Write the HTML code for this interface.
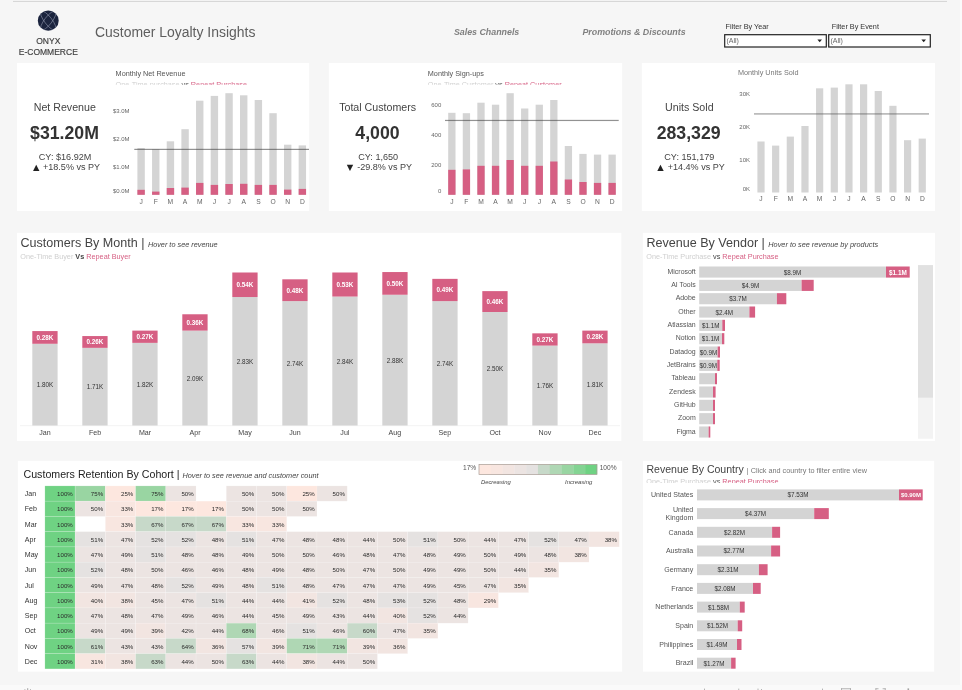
<!DOCTYPE html>
<html lang="en"><head><meta charset="utf-8"><title>Customer Loyalty Insights</title>
<style>
html,body{margin:0;padding:0}
body{width:962px;height:690px;overflow:hidden;background:#f6f6f6;position:relative;font-family:"Liberation Sans", Arial, sans-serif}
svg{display:block;font-family:"Liberation Sans", Arial, sans-serif}
svg text{white-space:pre}
.hdr{position:absolute;left:0;top:0;width:962px;height:62px}
.panel{position:absolute;overflow:hidden}
.bg{position:absolute;left:0;top:0}
.edge{position:absolute;left:960px;top:0;width:2px;height:690px;background:#fbfbfb}
.foot{position:absolute;left:0;top:685px;width:962px;height:5px;background:#fafafa}
</style></head><body>
<svg class="bg" width="962" height="690" viewBox="0 0 962 690">
<rect x="17.00" y="63.00" width="292.20" height="148.00" fill="#fff"/>
<rect x="328.90" y="63.00" width="293.20" height="148.00" fill="#fff"/>
<rect x="641.80" y="63.00" width="293.20" height="148.00" fill="#fff"/>
<rect x="17.00" y="232.80" width="604.40" height="208.20" fill="#fff"/>
<rect x="642.80" y="232.80" width="292.20" height="208.20" fill="#fff"/>
<rect x="17.90" y="460.90" width="604.30" height="210.80" fill="#fff"/>
<rect x="643.00" y="460.90" width="291.20" height="210.80" fill="#fff"/>
</svg>
<header class="hdr"><svg width="962" height="62" viewBox="0 0 962 62">
<rect x="13.00" y="0.90" width="934.00" height="1.00" fill="#d4d4d4"/>
<g class="logo"><clipPath id="lg"><ellipse cx="48.25" cy="20.65" rx="10.45" ry="10.05"/></clipPath><ellipse cx="48.25" cy="20.65" rx="10.45" ry="10.05" fill="#1b243e"/><g fill="none" stroke="#aeb4c8" stroke-width="0.45" clip-path="url(#lg)"><ellipse cx="48.25" cy="20.65" rx="3.74" ry="11.7" transform="rotate(37.5 48.25 20.65)"/><ellipse cx="48.25" cy="20.65" rx="3.74" ry="11.7" transform="rotate(-37.5 48.25 20.65)"/></g></g>
<text x="48.3" y="44.3" font-size="8.5" fill="#444" text-anchor="middle" stroke="#444" stroke-width="0.18">ONYX</text>
<text x="48.3" y="54.7" font-size="8.5" fill="#444" text-anchor="middle" stroke="#444" stroke-width="0.18">E-COMMERCE</text>
<text x="95.0" y="37.0" font-size="13.95" fill="#5e5e5e">Customer Loyalty Insights</text>
<text x="453.9" y="34.6" font-size="8.85" fill="#808080" font-weight="bold" font-style="italic">Sales Channels</text>
<text x="582.4" y="34.6" font-size="8.85" fill="#808080" font-weight="bold" font-style="italic">Promotions &amp; Discounts</text>
<text x="725.5" y="29.0" font-size="7.28" fill="#333">Filter By Year</text>
<text x="831.7" y="29.0" font-size="7.28" fill="#333">Filter By Event</text>
<rect x="724.7" y="34.7" width="101.6" height="12.3" fill="#fff" stroke="#222" stroke-width="1.2"/>
<text x="726.5" y="43.2" font-size="7.0" fill="#666">(All)</text>
<path d="M817.4 39.6 h4.6 l-2.3 2.6z" fill="#222"/>
<rect x="828.7" y="34.7" width="101.6" height="12.3" fill="#fff" stroke="#222" stroke-width="1.2"/>
<text x="830.5" y="43.2" font-size="7.0" fill="#666">(All)</text>
<path d="M921.4 39.6 h4.6 l-2.3 2.6z" fill="#222"/>
</svg></header>
<section class="panel k1" style="left:17px;top:63px;width:292px;height:148px">
<svg width="292" height="148" viewBox="17 63 292 148">
<text x="64.8" y="111.0" font-size="10.65" fill="#444" text-anchor="middle">Net Revenue</text>
<text x="64.5" y="139.1" font-size="17.7" fill="#333" text-anchor="middle" font-weight="bold">$31.20M</text>
<text x="65.1" y="160.4" font-size="9.1" fill="#444" text-anchor="middle">CY: $16.92M</text>
<text x="43.0" y="170.2" font-size="9.05" fill="#444"><tspan x="33.0" dy="-0.5" font-family="DejaVu Sans, sans-serif" font-size="8.4" fill="#222">▲</tspan><tspan x="43.0" dy="0.5">+18.5% vs PY</tspan></text>
<text x="115.6" y="76.3" font-size="7.28" fill="#555">Monthly Net Revenue</text>
<clipPath id="ck1"><rect x="17" y="78" width="292" height="6.8"/></clipPath>
<text x="115.6" y="87.0" font-size="7.28" clip-path="url(#ck1)"><tspan fill="#cfcfcf">One-Time purchase</tspan><tspan fill="#555"> vs </tspan><tspan fill="#d65f83">Repeat Purchase</tspan></text>
<text x="129.6" y="112.9" font-size="6.0" fill="#666" text-anchor="end">$3.0M</text>
<text x="129.6" y="141.0" font-size="6.0" fill="#666" text-anchor="end">$2.0M</text>
<text x="129.6" y="169.1" font-size="6.0" fill="#666" text-anchor="end">$1.0M</text>
<text x="129.6" y="192.6" font-size="6.0" fill="#666" text-anchor="end">$0.0M</text>
<rect x="137.40" y="148.00" width="7.40" height="46.80" fill="#d4d4d4"/>
<rect x="137.40" y="189.80" width="7.40" height="5.00" fill="#d65f83"/>
<text x="141.1" y="203.8" font-size="6.7" fill="#666" text-anchor="middle">J</text>
<rect x="152.06" y="149.20" width="7.40" height="45.60" fill="#d4d4d4"/>
<rect x="152.06" y="191.60" width="7.40" height="3.20" fill="#d65f83"/>
<text x="155.8" y="203.8" font-size="6.7" fill="#666" text-anchor="middle">F</text>
<rect x="166.72" y="141.30" width="7.40" height="53.50" fill="#d4d4d4"/>
<rect x="166.72" y="188.00" width="7.40" height="6.80" fill="#d65f83"/>
<text x="170.4" y="203.8" font-size="6.7" fill="#666" text-anchor="middle">M</text>
<rect x="181.38" y="129.20" width="7.40" height="65.60" fill="#d4d4d4"/>
<rect x="181.38" y="187.60" width="7.40" height="7.20" fill="#d65f83"/>
<text x="185.1" y="203.8" font-size="6.7" fill="#666" text-anchor="middle">A</text>
<rect x="196.04" y="100.70" width="7.40" height="94.10" fill="#d4d4d4"/>
<rect x="196.04" y="182.90" width="7.40" height="11.90" fill="#d65f83"/>
<text x="199.7" y="203.8" font-size="6.7" fill="#666" text-anchor="middle">M</text>
<rect x="210.70" y="95.90" width="7.40" height="98.90" fill="#d4d4d4"/>
<rect x="210.70" y="184.90" width="7.40" height="9.90" fill="#d65f83"/>
<text x="214.4" y="203.8" font-size="6.7" fill="#666" text-anchor="middle">J</text>
<rect x="225.36" y="93.20" width="7.40" height="101.60" fill="#d4d4d4"/>
<rect x="225.36" y="184.00" width="7.40" height="10.80" fill="#d65f83"/>
<text x="229.1" y="203.8" font-size="6.7" fill="#666" text-anchor="middle">J</text>
<rect x="240.02" y="95.30" width="7.40" height="99.50" fill="#d4d4d4"/>
<rect x="240.02" y="183.80" width="7.40" height="11.00" fill="#d65f83"/>
<text x="243.7" y="203.8" font-size="6.7" fill="#666" text-anchor="middle">A</text>
<rect x="254.68" y="100.00" width="7.40" height="94.80" fill="#d4d4d4"/>
<rect x="254.68" y="184.90" width="7.40" height="9.90" fill="#d65f83"/>
<text x="258.4" y="203.8" font-size="6.7" fill="#666" text-anchor="middle">S</text>
<rect x="269.34" y="113.20" width="7.40" height="81.60" fill="#d4d4d4"/>
<rect x="269.34" y="184.90" width="7.40" height="9.90" fill="#d65f83"/>
<text x="273.0" y="203.8" font-size="6.7" fill="#666" text-anchor="middle">O</text>
<rect x="284.00" y="144.70" width="7.40" height="50.10" fill="#d4d4d4"/>
<rect x="284.00" y="189.60" width="7.40" height="5.20" fill="#d65f83"/>
<text x="287.7" y="203.8" font-size="6.7" fill="#666" text-anchor="middle">N</text>
<rect x="298.66" y="145.40" width="7.40" height="49.40" fill="#d4d4d4"/>
<rect x="298.66" y="188.90" width="7.40" height="5.90" fill="#d65f83"/>
<text x="302.4" y="203.8" font-size="6.7" fill="#666" text-anchor="middle">D</text>
<rect x="134.3" y="148.80" width="174.7" height="1.2" fill="rgba(60,60,60,0.56)"/>
</svg></section>
<section class="panel k2" style="left:329px;top:63px;width:293px;height:148px">
<svg width="293" height="148" viewBox="329 63 293 148">
<text x="377.6" y="111.0" font-size="10.65" fill="#444" text-anchor="middle">Total Customers</text>
<text x="377.5" y="139.1" font-size="17.7" fill="#333" text-anchor="middle" font-weight="bold">4,000</text>
<text x="378.2" y="160.4" font-size="9.1" fill="#444" text-anchor="middle">CY: 1,650</text>
<text x="357.2" y="170.2" font-size="9.05" fill="#444"><tspan x="346.8" dy="-0.5" font-family="DejaVu Sans, sans-serif" font-size="8.4" fill="#222">▼</tspan><tspan x="357.2" dy="0.5">-29.8% vs PY</tspan></text>
<text x="427.8" y="76.3" font-size="7.28" fill="#555">Monthly Sign-ups</text>
<clipPath id="ck2"><rect x="329" y="78" width="293" height="6.8"/></clipPath>
<text x="427.8" y="87.0" font-size="7.28" clip-path="url(#ck2)"><tspan fill="#cfcfcf">One-Time Customer</tspan><tspan fill="#555"> vs </tspan><tspan fill="#d65f83">Repeat Customer</tspan></text>
<text x="441.3" y="107.0" font-size="6.0" fill="#666" text-anchor="end">600</text>
<text x="441.3" y="136.9" font-size="6.0" fill="#666" text-anchor="end">400</text>
<text x="441.3" y="167.0" font-size="6.0" fill="#666" text-anchor="end">200</text>
<text x="441.3" y="193.1" font-size="6.0" fill="#666" text-anchor="end">0</text>
<rect x="448.20" y="112.80" width="7.30" height="82.00" fill="#d4d4d4"/>
<rect x="448.20" y="169.80" width="7.30" height="25.00" fill="#d65f83"/>
<text x="451.8" y="203.8" font-size="6.7" fill="#666" text-anchor="middle">J</text>
<rect x="462.77" y="113.20" width="7.30" height="81.60" fill="#d4d4d4"/>
<rect x="462.77" y="169.40" width="7.30" height="25.40" fill="#d65f83"/>
<text x="466.4" y="203.8" font-size="6.7" fill="#666" text-anchor="middle">F</text>
<rect x="477.34" y="102.70" width="7.30" height="92.10" fill="#d4d4d4"/>
<rect x="477.34" y="165.80" width="7.30" height="29.00" fill="#d65f83"/>
<text x="481.0" y="203.8" font-size="6.7" fill="#666" text-anchor="middle">M</text>
<rect x="491.91" y="104.70" width="7.30" height="90.10" fill="#d4d4d4"/>
<rect x="491.91" y="165.80" width="7.30" height="29.00" fill="#d65f83"/>
<text x="495.6" y="203.8" font-size="6.7" fill="#666" text-anchor="middle">A</text>
<rect x="506.48" y="93.20" width="7.30" height="101.60" fill="#d4d4d4"/>
<rect x="506.48" y="160.00" width="7.30" height="34.80" fill="#d65f83"/>
<text x="510.1" y="203.8" font-size="6.7" fill="#666" text-anchor="middle">M</text>
<rect x="521.05" y="108.50" width="7.30" height="86.30" fill="#d4d4d4"/>
<rect x="521.05" y="165.80" width="7.30" height="29.00" fill="#d65f83"/>
<text x="524.7" y="203.8" font-size="6.7" fill="#666" text-anchor="middle">J</text>
<rect x="535.62" y="104.70" width="7.30" height="90.10" fill="#d4d4d4"/>
<rect x="535.62" y="165.80" width="7.30" height="29.00" fill="#d65f83"/>
<text x="539.3" y="203.8" font-size="6.7" fill="#666" text-anchor="middle">J</text>
<rect x="550.19" y="100.00" width="7.30" height="94.80" fill="#d4d4d4"/>
<rect x="550.19" y="161.50" width="7.30" height="33.30" fill="#d65f83"/>
<text x="553.8" y="203.8" font-size="6.7" fill="#666" text-anchor="middle">A</text>
<rect x="564.76" y="146.00" width="7.30" height="48.80" fill="#d4d4d4"/>
<rect x="564.76" y="179.50" width="7.30" height="15.30" fill="#d65f83"/>
<text x="568.4" y="203.8" font-size="6.7" fill="#666" text-anchor="middle">S</text>
<rect x="579.33" y="153.90" width="7.30" height="40.90" fill="#d4d4d4"/>
<rect x="579.33" y="182.00" width="7.30" height="12.80" fill="#d65f83"/>
<text x="583.0" y="203.8" font-size="6.7" fill="#666" text-anchor="middle">O</text>
<rect x="593.90" y="154.60" width="7.30" height="40.20" fill="#d4d4d4"/>
<rect x="593.90" y="182.90" width="7.30" height="11.90" fill="#d65f83"/>
<text x="597.5" y="203.8" font-size="6.7" fill="#666" text-anchor="middle">N</text>
<rect x="608.47" y="154.60" width="7.30" height="40.20" fill="#d4d4d4"/>
<rect x="608.47" y="182.90" width="7.30" height="11.90" fill="#d65f83"/>
<text x="612.1" y="203.8" font-size="6.7" fill="#666" text-anchor="middle">D</text>
<rect x="445" y="119.85" width="173.7" height="1.2" fill="rgba(60,60,60,0.56)"/>
</svg></section>
<section class="panel k3" style="left:642px;top:63px;width:293px;height:148px">
<svg width="293" height="148" viewBox="642 63 293 148">
<text x="689.3" y="111.0" font-size="10.65" fill="#444" text-anchor="middle">Units Sold</text>
<text x="688.6" y="139.1" font-size="17.7" fill="#333" text-anchor="middle" font-weight="bold">283,329</text>
<text x="689.3" y="160.4" font-size="9.1" fill="#444" text-anchor="middle">CY: 151,179</text>
<text x="667.7" y="170.2" font-size="9.05" fill="#444"><tspan x="657.3" dy="-0.5" font-family="DejaVu Sans, sans-serif" font-size="8.4" fill="#222">▲</tspan><tspan x="667.7" dy="0.5">+14.4% vs PY</tspan></text>
<text x="737.9" y="75.3" font-size="7.28" fill="#777">Monthly Units Sold</text>
<text x="750.0" y="95.8" font-size="6.0" fill="#666" text-anchor="end">30K</text>
<text x="750.0" y="128.8" font-size="6.0" fill="#666" text-anchor="end">20K</text>
<text x="750.0" y="161.6" font-size="6.0" fill="#666" text-anchor="end">10K</text>
<text x="750.0" y="191.0" font-size="6.0" fill="#666" text-anchor="end">0K</text>
<rect x="757.40" y="141.50" width="7.20" height="51.00" fill="#d4d4d4"/>
<text x="761.0" y="201.0" font-size="6.7" fill="#666" text-anchor="middle">J</text>
<rect x="772.06" y="145.60" width="7.20" height="46.90" fill="#d4d4d4"/>
<text x="775.7" y="201.0" font-size="6.7" fill="#666" text-anchor="middle">F</text>
<rect x="786.72" y="136.60" width="7.20" height="55.90" fill="#d4d4d4"/>
<text x="790.3" y="201.0" font-size="6.7" fill="#666" text-anchor="middle">M</text>
<rect x="801.38" y="126.00" width="7.20" height="66.50" fill="#d4d4d4"/>
<text x="805.0" y="201.0" font-size="6.7" fill="#666" text-anchor="middle">A</text>
<rect x="816.04" y="88.30" width="7.20" height="104.20" fill="#d4d4d4"/>
<text x="819.6" y="201.0" font-size="6.7" fill="#666" text-anchor="middle">M</text>
<rect x="830.70" y="87.60" width="7.20" height="104.90" fill="#d4d4d4"/>
<text x="834.3" y="201.0" font-size="6.7" fill="#666" text-anchor="middle">J</text>
<rect x="845.36" y="84.30" width="7.20" height="108.20" fill="#d4d4d4"/>
<text x="849.0" y="201.0" font-size="6.7" fill="#666" text-anchor="middle">J</text>
<rect x="860.02" y="84.30" width="7.20" height="108.20" fill="#d4d4d4"/>
<text x="863.6" y="201.0" font-size="6.7" fill="#666" text-anchor="middle">A</text>
<rect x="874.68" y="91.00" width="7.20" height="101.50" fill="#d4d4d4"/>
<text x="878.3" y="201.0" font-size="6.7" fill="#666" text-anchor="middle">S</text>
<rect x="889.34" y="105.80" width="7.20" height="86.70" fill="#d4d4d4"/>
<text x="892.9" y="201.0" font-size="6.7" fill="#666" text-anchor="middle">O</text>
<rect x="904.00" y="140.20" width="7.20" height="52.30" fill="#d4d4d4"/>
<text x="907.6" y="201.0" font-size="6.7" fill="#666" text-anchor="middle">N</text>
<rect x="918.66" y="138.60" width="7.20" height="53.90" fill="#d4d4d4"/>
<text x="922.3" y="201.0" font-size="6.7" fill="#666" text-anchor="middle">D</text>
<rect x="754" y="113.10" width="175.0" height="1.6" fill="rgba(90,90,90,0.45)"/>
</svg></section>
<section class="panel cm" style="left:17px;top:232px;width:605px;height:209px">
<svg width="605" height="209" viewBox="17 232 605 209">
<text x="20.5" y="247.2" font-size="12.55" fill="#444">Customers By Month | <tspan font-size="7.3" font-style="italic" fill="#444">Hover to see revenue</tspan></text>
<text x="20.3" y="259.2" font-size="7.28"><tspan fill="#cfcfcf">One-Time Buyer</tspan><tspan fill="#444" font-weight="bold"> Vs </tspan><tspan fill="#d65f83">Repeat Buyer</tspan></text>
<rect x="20.00" y="425.50" width="600.00" height="0.60" fill="#ececec"/>
<rect x="32.30" y="343.78" width="25.30" height="81.72" fill="#d4d4d4"/>
<rect x="32.30" y="331.07" width="25.30" height="12.71" fill="#d65f83"/>
<text x="44.9" y="339.7" font-size="6.3" fill="#fff" text-anchor="middle" font-weight="bold">0.28K</text>
<text x="44.9" y="387.2" font-size="6.3" fill="#333" text-anchor="middle">1.80K</text>
<text x="44.9" y="434.9" font-size="7.1" fill="#444" text-anchor="middle">Jan</text>
<rect x="82.30" y="347.87" width="25.30" height="77.63" fill="#d4d4d4"/>
<rect x="82.30" y="336.06" width="25.30" height="11.80" fill="#d65f83"/>
<text x="95.0" y="344.3" font-size="6.3" fill="#fff" text-anchor="middle" font-weight="bold">0.26K</text>
<text x="95.0" y="389.3" font-size="6.3" fill="#333" text-anchor="middle">1.71K</text>
<text x="95.0" y="434.9" font-size="7.1" fill="#444" text-anchor="middle">Feb</text>
<rect x="132.30" y="342.87" width="25.30" height="82.63" fill="#d4d4d4"/>
<rect x="132.30" y="330.61" width="25.30" height="12.26" fill="#d65f83"/>
<text x="145.0" y="339.0" font-size="6.3" fill="#fff" text-anchor="middle" font-weight="bold">0.27K</text>
<text x="145.0" y="386.8" font-size="6.3" fill="#333" text-anchor="middle">1.82K</text>
<text x="145.0" y="434.9" font-size="7.1" fill="#444" text-anchor="middle">Mar</text>
<rect x="182.30" y="330.61" width="25.30" height="94.89" fill="#d4d4d4"/>
<rect x="182.30" y="314.27" width="25.30" height="16.34" fill="#d65f83"/>
<text x="195.0" y="324.7" font-size="6.3" fill="#fff" text-anchor="middle" font-weight="bold">0.36K</text>
<text x="195.0" y="380.7" font-size="6.3" fill="#333" text-anchor="middle">2.09K</text>
<text x="195.0" y="434.9" font-size="7.1" fill="#444" text-anchor="middle">Apr</text>
<rect x="232.30" y="297.02" width="25.30" height="128.48" fill="#d4d4d4"/>
<rect x="232.30" y="272.50" width="25.30" height="24.52" fill="#d65f83"/>
<text x="245.0" y="287.1" font-size="6.3" fill="#fff" text-anchor="middle" font-weight="bold">0.54K</text>
<text x="245.0" y="363.9" font-size="6.3" fill="#333" text-anchor="middle">2.83K</text>
<text x="245.0" y="434.9" font-size="7.1" fill="#444" text-anchor="middle">May</text>
<rect x="282.30" y="301.10" width="25.30" height="124.40" fill="#d4d4d4"/>
<rect x="282.30" y="279.31" width="25.30" height="21.79" fill="#d65f83"/>
<text x="294.9" y="292.5" font-size="6.3" fill="#fff" text-anchor="middle" font-weight="bold">0.48K</text>
<text x="294.9" y="365.9" font-size="6.3" fill="#333" text-anchor="middle">2.74K</text>
<text x="294.9" y="434.9" font-size="7.1" fill="#444" text-anchor="middle">Jun</text>
<rect x="332.30" y="296.56" width="25.30" height="128.94" fill="#d4d4d4"/>
<rect x="332.30" y="272.50" width="25.30" height="24.06" fill="#d65f83"/>
<text x="344.9" y="286.8" font-size="6.3" fill="#fff" text-anchor="middle" font-weight="bold">0.53K</text>
<text x="344.9" y="363.6" font-size="6.3" fill="#333" text-anchor="middle">2.84K</text>
<text x="344.9" y="434.9" font-size="7.1" fill="#444" text-anchor="middle">Jul</text>
<rect x="382.30" y="294.75" width="25.30" height="130.75" fill="#d4d4d4"/>
<rect x="382.30" y="272.05" width="25.30" height="22.70" fill="#d65f83"/>
<text x="394.9" y="285.7" font-size="6.3" fill="#fff" text-anchor="middle" font-weight="bold">0.50K</text>
<text x="394.9" y="362.7" font-size="6.3" fill="#333" text-anchor="middle">2.88K</text>
<text x="394.9" y="434.9" font-size="7.1" fill="#444" text-anchor="middle">Aug</text>
<rect x="432.30" y="301.10" width="25.30" height="124.40" fill="#d4d4d4"/>
<rect x="432.30" y="278.86" width="25.30" height="22.25" fill="#d65f83"/>
<text x="444.9" y="292.3" font-size="6.3" fill="#fff" text-anchor="middle" font-weight="bold">0.49K</text>
<text x="444.9" y="365.9" font-size="6.3" fill="#333" text-anchor="middle">2.74K</text>
<text x="444.9" y="434.9" font-size="7.1" fill="#444" text-anchor="middle">Sep</text>
<rect x="482.30" y="312.00" width="25.30" height="113.50" fill="#d4d4d4"/>
<rect x="482.30" y="291.12" width="25.30" height="20.88" fill="#d65f83"/>
<text x="494.9" y="303.9" font-size="6.3" fill="#fff" text-anchor="middle" font-weight="bold">0.46K</text>
<text x="494.9" y="371.4" font-size="6.3" fill="#333" text-anchor="middle">2.50K</text>
<text x="494.9" y="434.9" font-size="7.1" fill="#444" text-anchor="middle">Oct</text>
<rect x="532.30" y="345.60" width="25.30" height="79.90" fill="#d4d4d4"/>
<rect x="532.30" y="333.34" width="25.30" height="12.26" fill="#d65f83"/>
<text x="544.9" y="341.8" font-size="6.3" fill="#fff" text-anchor="middle" font-weight="bold">0.27K</text>
<text x="544.9" y="388.1" font-size="6.3" fill="#333" text-anchor="middle">1.76K</text>
<text x="544.9" y="434.9" font-size="7.1" fill="#444" text-anchor="middle">Nov</text>
<rect x="582.30" y="343.33" width="25.30" height="82.17" fill="#d4d4d4"/>
<rect x="582.30" y="330.61" width="25.30" height="12.71" fill="#d65f83"/>
<text x="594.9" y="339.3" font-size="6.3" fill="#fff" text-anchor="middle" font-weight="bold">0.28K</text>
<text x="594.9" y="387.0" font-size="6.3" fill="#333" text-anchor="middle">1.81K</text>
<text x="594.9" y="434.9" font-size="7.1" fill="#444" text-anchor="middle">Dec</text>
</svg></section>
<section class="panel rv" style="left:642px;top:232px;width:293px;height:209px">
<svg width="293" height="209" viewBox="642 232 293 209">
<text x="646.5" y="247.2" font-size="12.55" fill="#444">Revenue By Vendor | <tspan font-size="7.32" font-style="italic" fill="#444">Hover to see revenue by products</tspan></text>
<text x="646.3" y="259.2" font-size="7.28"><tspan fill="#cfcfcf">One-Time Purchase</tspan><tspan fill="#444"> vs </tspan><tspan fill="#d65f83">Repeat Purchase</tspan></text>
<text x="695.7" y="273.5" font-size="6.95" fill="#555" text-anchor="end">Microsoft</text>
<rect x="699.20" y="266.50" width="186.80" height="11.10" fill="#d4d4d4"/>
<rect x="886.00" y="266.50" width="23.70" height="11.10" fill="#d65f83"/>
<text x="792.6" y="274.5" font-size="6.3" fill="#333" text-anchor="middle">$8.9M</text>
<text x="897.9" y="274.5" font-size="6.4" fill="#fff" text-anchor="middle" font-weight="bold">$1.1M</text>
<text x="695.7" y="286.8" font-size="6.95" fill="#555" text-anchor="end">AI Tools</text>
<rect x="699.20" y="279.83" width="102.40" height="11.10" fill="#d4d4d4"/>
<rect x="801.60" y="279.83" width="12.10" height="11.10" fill="#d65f83"/>
<text x="750.4" y="287.8" font-size="6.3" fill="#333" text-anchor="middle">$4.9M</text>
<text x="695.7" y="300.2" font-size="6.95" fill="#555" text-anchor="end">Adobe</text>
<rect x="699.20" y="293.16" width="77.70" height="11.10" fill="#d4d4d4"/>
<rect x="776.90" y="293.16" width="9.40" height="11.10" fill="#d65f83"/>
<text x="738.0" y="301.2" font-size="6.3" fill="#333" text-anchor="middle">$3.7M</text>
<text x="695.7" y="313.5" font-size="6.95" fill="#555" text-anchor="end">Other</text>
<rect x="699.20" y="306.49" width="50.20" height="11.10" fill="#d4d4d4"/>
<rect x="749.40" y="306.49" width="5.70" height="11.10" fill="#d65f83"/>
<text x="724.3" y="314.5" font-size="6.3" fill="#333" text-anchor="middle">$2.4M</text>
<text x="695.7" y="326.8" font-size="6.95" fill="#555" text-anchor="end">Atlassian</text>
<rect x="699.20" y="319.82" width="23.10" height="11.10" fill="#d4d4d4"/>
<rect x="722.30" y="319.82" width="2.70" height="11.10" fill="#d65f83"/>
<text x="710.8" y="327.8" font-size="6.3" fill="#333" text-anchor="middle">$1.1M</text>
<text x="695.7" y="340.1" font-size="6.95" fill="#555" text-anchor="end">Notion</text>
<rect x="699.20" y="333.15" width="22.80" height="11.10" fill="#d4d4d4"/>
<rect x="722.00" y="333.15" width="2.30" height="11.10" fill="#d65f83"/>
<text x="710.6" y="341.1" font-size="6.3" fill="#333" text-anchor="middle">$1.1M</text>
<text x="695.7" y="353.5" font-size="6.95" fill="#555" text-anchor="end">Datadog</text>
<rect x="699.20" y="346.48" width="18.40" height="11.10" fill="#d4d4d4"/>
<rect x="717.60" y="346.48" width="2.40" height="11.10" fill="#d65f83"/>
<text x="708.4" y="354.5" font-size="6.3" fill="#333" text-anchor="middle">$0.9M</text>
<text x="695.7" y="366.8" font-size="6.95" fill="#555" text-anchor="end">JetBrains</text>
<rect x="699.20" y="359.81" width="18.10" height="11.10" fill="#d4d4d4"/>
<rect x="717.30" y="359.81" width="2.40" height="11.10" fill="#d65f83"/>
<text x="708.2" y="367.8" font-size="6.3" fill="#333" text-anchor="middle">$0.9M</text>
<text x="695.7" y="380.1" font-size="6.95" fill="#555" text-anchor="end">Tableau</text>
<rect x="699.20" y="373.14" width="15.80" height="11.10" fill="#d4d4d4"/>
<rect x="715.00" y="373.14" width="2.00" height="11.10" fill="#d65f83"/>
<text x="695.7" y="393.5" font-size="6.95" fill="#555" text-anchor="end">Zendesk</text>
<rect x="699.20" y="386.47" width="13.80" height="11.10" fill="#d4d4d4"/>
<rect x="713.00" y="386.47" width="2.60" height="11.10" fill="#d65f83"/>
<text x="695.7" y="406.8" font-size="6.95" fill="#555" text-anchor="end">GitHub</text>
<rect x="699.20" y="399.80" width="13.80" height="11.10" fill="#d4d4d4"/>
<rect x="713.00" y="399.80" width="2.00" height="11.10" fill="#d65f83"/>
<text x="695.7" y="420.1" font-size="6.95" fill="#555" text-anchor="end">Zoom</text>
<rect x="699.20" y="413.13" width="13.80" height="11.10" fill="#d4d4d4"/>
<rect x="713.00" y="413.13" width="2.00" height="11.10" fill="#d65f83"/>
<text x="695.7" y="433.5" font-size="6.95" fill="#555" text-anchor="end">Figma</text>
<rect x="699.20" y="426.46" width="9.40" height="11.10" fill="#d4d4d4"/>
<rect x="708.60" y="426.46" width="1.70" height="11.10" fill="#d65f83"/>
<rect x="918.00" y="265.10" width="15.00" height="173.60" fill="#f3f3f3"/>
<rect x="918.00" y="265.10" width="15.00" height="132.60" fill="#e1e1e1"/>
</svg></section>
<section class="panel co" style="left:17px;top:460px;width:606px;height:212px">
<svg width="606" height="212" viewBox="17 460 606 212">
<text x="23.5" y="478.1" font-size="10.65" fill="#222">Customers Retention By Cohort | <tspan font-size="7.32" font-style="italic" fill="#444">Hover to see revenue and customer count</tspan></text>
<text x="24.8" y="496.1" font-size="7.05" fill="#333">Jan</text>
<rect x="44.90" y="485.90" width="30.23" height="15.25" fill="rgb(111, 210, 131)" stroke="rgba(255,255,255,0.3)" stroke-width="0.5"/>
<text x="72.8" y="496.0" font-size="6.15" fill="#2a2a2a" text-anchor="end">100%</text>
<rect x="75.13" y="485.90" width="30.23" height="15.25" fill="rgb(153, 213, 162)" stroke="rgba(255,255,255,0.3)" stroke-width="0.5"/>
<text x="103.1" y="496.0" font-size="6.15" fill="#2a2a2a" text-anchor="end">75%</text>
<rect x="105.36" y="485.90" width="30.23" height="15.25" fill="rgb(253, 231, 223)" stroke="rgba(255,255,255,0.3)" stroke-width="0.5"/>
<text x="133.3" y="496.0" font-size="6.15" fill="#2a2a2a" text-anchor="end">25%</text>
<rect x="135.59" y="485.90" width="30.23" height="15.25" fill="rgb(153, 213, 162)" stroke="rgba(255,255,255,0.3)" stroke-width="0.5"/>
<text x="163.5" y="496.0" font-size="6.15" fill="#2a2a2a" text-anchor="end">75%</text>
<rect x="165.82" y="485.90" width="30.23" height="15.25" fill="rgb(236, 228, 226)" stroke="rgba(255,255,255,0.3)" stroke-width="0.5"/>
<text x="193.7" y="496.0" font-size="6.15" fill="#2a2a2a" text-anchor="end">50%</text>
<rect x="226.28" y="485.90" width="30.23" height="15.25" fill="rgb(236, 228, 226)" stroke="rgba(255,255,255,0.3)" stroke-width="0.5"/>
<text x="254.2" y="496.0" font-size="6.15" fill="#2a2a2a" text-anchor="end">50%</text>
<rect x="256.51" y="485.90" width="30.23" height="15.25" fill="rgb(236, 228, 226)" stroke="rgba(255,255,255,0.3)" stroke-width="0.5"/>
<text x="284.4" y="496.0" font-size="6.15" fill="#2a2a2a" text-anchor="end">50%</text>
<rect x="286.74" y="485.90" width="30.23" height="15.25" fill="rgb(253, 231, 223)" stroke="rgba(255,255,255,0.3)" stroke-width="0.5"/>
<text x="314.7" y="496.0" font-size="6.15" fill="#2a2a2a" text-anchor="end">25%</text>
<rect x="316.97" y="485.90" width="30.23" height="15.25" fill="rgb(236, 228, 226)" stroke="rgba(255,255,255,0.3)" stroke-width="0.5"/>
<text x="344.9" y="496.0" font-size="6.15" fill="#2a2a2a" text-anchor="end">50%</text>
<text x="24.8" y="511.3" font-size="7.05" fill="#333">Feb</text>
<rect x="44.90" y="501.15" width="30.23" height="15.25" fill="rgb(111, 210, 131)" stroke="rgba(255,255,255,0.3)" stroke-width="0.5"/>
<text x="72.8" y="511.2" font-size="6.15" fill="#2a2a2a" text-anchor="end">100%</text>
<rect x="75.13" y="501.15" width="30.23" height="15.25" fill="rgb(236, 228, 226)" stroke="rgba(255,255,255,0.3)" stroke-width="0.5"/>
<text x="103.1" y="511.2" font-size="6.15" fill="#2a2a2a" text-anchor="end">50%</text>
<rect x="105.36" y="501.15" width="30.23" height="15.25" fill="rgb(248, 230, 224)" stroke="rgba(255,255,255,0.3)" stroke-width="0.5"/>
<text x="133.3" y="511.2" font-size="6.15" fill="#2a2a2a" text-anchor="end">33%</text>
<rect x="135.59" y="501.15" width="30.23" height="15.25" fill="rgb(253, 231, 223)" stroke="rgba(255,255,255,0.3)" stroke-width="0.5"/>
<text x="163.5" y="511.2" font-size="6.15" fill="#2a2a2a" text-anchor="end">17%</text>
<rect x="165.82" y="501.15" width="30.23" height="15.25" fill="rgb(253, 231, 223)" stroke="rgba(255,255,255,0.3)" stroke-width="0.5"/>
<text x="193.7" y="511.2" font-size="6.15" fill="#2a2a2a" text-anchor="end">17%</text>
<rect x="196.05" y="501.15" width="30.23" height="15.25" fill="rgb(253, 231, 223)" stroke="rgba(255,255,255,0.3)" stroke-width="0.5"/>
<text x="224.0" y="511.2" font-size="6.15" fill="#2a2a2a" text-anchor="end">17%</text>
<rect x="226.28" y="501.15" width="30.23" height="15.25" fill="rgb(236, 228, 226)" stroke="rgba(255,255,255,0.3)" stroke-width="0.5"/>
<text x="254.2" y="511.2" font-size="6.15" fill="#2a2a2a" text-anchor="end">50%</text>
<rect x="256.51" y="501.15" width="30.23" height="15.25" fill="rgb(236, 228, 226)" stroke="rgba(255,255,255,0.3)" stroke-width="0.5"/>
<text x="284.4" y="511.2" font-size="6.15" fill="#2a2a2a" text-anchor="end">50%</text>
<rect x="286.74" y="501.15" width="30.23" height="15.25" fill="rgb(236, 228, 226)" stroke="rgba(255,255,255,0.3)" stroke-width="0.5"/>
<text x="314.7" y="511.2" font-size="6.15" fill="#2a2a2a" text-anchor="end">50%</text>
<text x="24.8" y="526.6" font-size="7.05" fill="#333">Mar</text>
<rect x="44.90" y="516.40" width="30.23" height="15.25" fill="rgb(111, 210, 131)" stroke="rgba(255,255,255,0.3)" stroke-width="0.5"/>
<text x="72.8" y="526.5" font-size="6.15" fill="#2a2a2a" text-anchor="end">100%</text>
<rect x="105.36" y="516.40" width="30.23" height="15.25" fill="rgb(248, 230, 224)" stroke="rgba(255,255,255,0.3)" stroke-width="0.5"/>
<text x="133.3" y="526.5" font-size="6.15" fill="#2a2a2a" text-anchor="end">33%</text>
<rect x="135.59" y="516.40" width="30.23" height="15.25" fill="rgb(199, 217, 201)" stroke="rgba(255,255,255,0.3)" stroke-width="0.5"/>
<text x="163.5" y="526.5" font-size="6.15" fill="#2a2a2a" text-anchor="end">67%</text>
<rect x="165.82" y="516.40" width="30.23" height="15.25" fill="rgb(199, 217, 201)" stroke="rgba(255,255,255,0.3)" stroke-width="0.5"/>
<text x="193.7" y="526.5" font-size="6.15" fill="#2a2a2a" text-anchor="end">67%</text>
<rect x="196.05" y="516.40" width="30.23" height="15.25" fill="rgb(199, 217, 201)" stroke="rgba(255,255,255,0.3)" stroke-width="0.5"/>
<text x="224.0" y="526.5" font-size="6.15" fill="#2a2a2a" text-anchor="end">67%</text>
<rect x="226.28" y="516.40" width="30.23" height="15.25" fill="rgb(248, 230, 224)" stroke="rgba(255,255,255,0.3)" stroke-width="0.5"/>
<text x="254.2" y="526.5" font-size="6.15" fill="#2a2a2a" text-anchor="end">33%</text>
<rect x="256.51" y="516.40" width="30.23" height="15.25" fill="rgb(248, 230, 224)" stroke="rgba(255,255,255,0.3)" stroke-width="0.5"/>
<text x="284.4" y="526.5" font-size="6.15" fill="#2a2a2a" text-anchor="end">33%</text>
<text x="24.8" y="541.9" font-size="7.05" fill="#333">Apr</text>
<rect x="44.90" y="531.65" width="30.23" height="15.25" fill="rgb(111, 210, 131)" stroke="rgba(255,255,255,0.3)" stroke-width="0.5"/>
<text x="72.8" y="541.8" font-size="6.15" fill="#2a2a2a" text-anchor="end">100%</text>
<rect x="75.13" y="531.65" width="30.23" height="15.25" fill="rgb(229, 226, 225)" stroke="rgba(255,255,255,0.3)" stroke-width="0.5"/>
<text x="103.1" y="541.8" font-size="6.15" fill="#2a2a2a" text-anchor="end">51%</text>
<rect x="105.36" y="531.65" width="30.23" height="15.25" fill="rgb(236, 228, 226)" stroke="rgba(255,255,255,0.3)" stroke-width="0.5"/>
<text x="133.3" y="541.8" font-size="6.15" fill="#2a2a2a" text-anchor="end">47%</text>
<rect x="135.59" y="531.65" width="30.23" height="15.25" fill="rgb(229, 226, 225)" stroke="rgba(255,255,255,0.3)" stroke-width="0.5"/>
<text x="163.5" y="541.8" font-size="6.15" fill="#2a2a2a" text-anchor="end">52%</text>
<rect x="165.82" y="531.65" width="30.23" height="15.25" fill="rgb(229, 226, 225)" stroke="rgba(255,255,255,0.3)" stroke-width="0.5"/>
<text x="193.7" y="541.8" font-size="6.15" fill="#2a2a2a" text-anchor="end">52%</text>
<rect x="196.05" y="531.65" width="30.23" height="15.25" fill="rgb(236, 228, 226)" stroke="rgba(255,255,255,0.3)" stroke-width="0.5"/>
<text x="224.0" y="541.8" font-size="6.15" fill="#2a2a2a" text-anchor="end">48%</text>
<rect x="226.28" y="531.65" width="30.23" height="15.25" fill="rgb(229, 226, 225)" stroke="rgba(255,255,255,0.3)" stroke-width="0.5"/>
<text x="254.2" y="541.8" font-size="6.15" fill="#2a2a2a" text-anchor="end">51%</text>
<rect x="256.51" y="531.65" width="30.23" height="15.25" fill="rgb(236, 228, 226)" stroke="rgba(255,255,255,0.3)" stroke-width="0.5"/>
<text x="284.4" y="541.8" font-size="6.15" fill="#2a2a2a" text-anchor="end">47%</text>
<rect x="286.74" y="531.65" width="30.23" height="15.25" fill="rgb(236, 228, 226)" stroke="rgba(255,255,255,0.3)" stroke-width="0.5"/>
<text x="314.7" y="541.8" font-size="6.15" fill="#2a2a2a" text-anchor="end">48%</text>
<rect x="316.97" y="531.65" width="30.23" height="15.25" fill="rgb(236, 228, 226)" stroke="rgba(255,255,255,0.3)" stroke-width="0.5"/>
<text x="344.9" y="541.8" font-size="6.15" fill="#2a2a2a" text-anchor="end">48%</text>
<rect x="347.20" y="531.65" width="30.23" height="15.25" fill="rgb(236, 228, 226)" stroke="rgba(255,255,255,0.3)" stroke-width="0.5"/>
<text x="375.1" y="541.8" font-size="6.15" fill="#2a2a2a" text-anchor="end">44%</text>
<rect x="377.43" y="531.65" width="30.23" height="15.25" fill="rgb(236, 228, 226)" stroke="rgba(255,255,255,0.3)" stroke-width="0.5"/>
<text x="405.4" y="541.8" font-size="6.15" fill="#2a2a2a" text-anchor="end">50%</text>
<rect x="407.66" y="531.65" width="30.23" height="15.25" fill="rgb(229, 226, 225)" stroke="rgba(255,255,255,0.3)" stroke-width="0.5"/>
<text x="435.6" y="541.8" font-size="6.15" fill="#2a2a2a" text-anchor="end">51%</text>
<rect x="437.89" y="531.65" width="30.23" height="15.25" fill="rgb(236, 228, 226)" stroke="rgba(255,255,255,0.3)" stroke-width="0.5"/>
<text x="465.8" y="541.8" font-size="6.15" fill="#2a2a2a" text-anchor="end">50%</text>
<rect x="468.12" y="531.65" width="30.23" height="15.25" fill="rgb(236, 228, 226)" stroke="rgba(255,255,255,0.3)" stroke-width="0.5"/>
<text x="496.1" y="541.8" font-size="6.15" fill="#2a2a2a" text-anchor="end">44%</text>
<rect x="498.35" y="531.65" width="30.23" height="15.25" fill="rgb(236, 228, 226)" stroke="rgba(255,255,255,0.3)" stroke-width="0.5"/>
<text x="526.3" y="541.8" font-size="6.15" fill="#2a2a2a" text-anchor="end">47%</text>
<rect x="528.58" y="531.65" width="30.23" height="15.25" fill="rgb(229, 226, 225)" stroke="rgba(255,255,255,0.3)" stroke-width="0.5"/>
<text x="556.5" y="541.8" font-size="6.15" fill="#2a2a2a" text-anchor="end">52%</text>
<rect x="558.81" y="531.65" width="30.23" height="15.25" fill="rgb(236, 228, 226)" stroke="rgba(255,255,255,0.3)" stroke-width="0.5"/>
<text x="586.7" y="541.8" font-size="6.15" fill="#2a2a2a" text-anchor="end">47%</text>
<rect x="589.04" y="531.65" width="30.23" height="15.25" fill="rgb(242, 229, 225)" stroke="rgba(255,255,255,0.3)" stroke-width="0.5"/>
<text x="617.0" y="541.8" font-size="6.15" fill="#2a2a2a" text-anchor="end">38%</text>
<text x="24.8" y="557.1" font-size="7.05" fill="#333">May</text>
<rect x="44.90" y="546.90" width="30.23" height="15.25" fill="rgb(111, 210, 131)" stroke="rgba(255,255,255,0.3)" stroke-width="0.5"/>
<text x="72.8" y="557.0" font-size="6.15" fill="#2a2a2a" text-anchor="end">100%</text>
<rect x="75.13" y="546.90" width="30.23" height="15.25" fill="rgb(236, 228, 226)" stroke="rgba(255,255,255,0.3)" stroke-width="0.5"/>
<text x="103.1" y="557.0" font-size="6.15" fill="#2a2a2a" text-anchor="end">47%</text>
<rect x="105.36" y="546.90" width="30.23" height="15.25" fill="rgb(236, 228, 226)" stroke="rgba(255,255,255,0.3)" stroke-width="0.5"/>
<text x="133.3" y="557.0" font-size="6.15" fill="#2a2a2a" text-anchor="end">49%</text>
<rect x="135.59" y="546.90" width="30.23" height="15.25" fill="rgb(229, 226, 225)" stroke="rgba(255,255,255,0.3)" stroke-width="0.5"/>
<text x="163.5" y="557.0" font-size="6.15" fill="#2a2a2a" text-anchor="end">51%</text>
<rect x="165.82" y="546.90" width="30.23" height="15.25" fill="rgb(236, 228, 226)" stroke="rgba(255,255,255,0.3)" stroke-width="0.5"/>
<text x="193.7" y="557.0" font-size="6.15" fill="#2a2a2a" text-anchor="end">48%</text>
<rect x="196.05" y="546.90" width="30.23" height="15.25" fill="rgb(236, 228, 226)" stroke="rgba(255,255,255,0.3)" stroke-width="0.5"/>
<text x="224.0" y="557.0" font-size="6.15" fill="#2a2a2a" text-anchor="end">48%</text>
<rect x="226.28" y="546.90" width="30.23" height="15.25" fill="rgb(236, 228, 226)" stroke="rgba(255,255,255,0.3)" stroke-width="0.5"/>
<text x="254.2" y="557.0" font-size="6.15" fill="#2a2a2a" text-anchor="end">49%</text>
<rect x="256.51" y="546.90" width="30.23" height="15.25" fill="rgb(236, 228, 226)" stroke="rgba(255,255,255,0.3)" stroke-width="0.5"/>
<text x="284.4" y="557.0" font-size="6.15" fill="#2a2a2a" text-anchor="end">50%</text>
<rect x="286.74" y="546.90" width="30.23" height="15.25" fill="rgb(236, 228, 226)" stroke="rgba(255,255,255,0.3)" stroke-width="0.5"/>
<text x="314.7" y="557.0" font-size="6.15" fill="#2a2a2a" text-anchor="end">50%</text>
<rect x="316.97" y="546.90" width="30.23" height="15.25" fill="rgb(236, 228, 226)" stroke="rgba(255,255,255,0.3)" stroke-width="0.5"/>
<text x="344.9" y="557.0" font-size="6.15" fill="#2a2a2a" text-anchor="end">46%</text>
<rect x="347.20" y="546.90" width="30.23" height="15.25" fill="rgb(236, 228, 226)" stroke="rgba(255,255,255,0.3)" stroke-width="0.5"/>
<text x="375.1" y="557.0" font-size="6.15" fill="#2a2a2a" text-anchor="end">48%</text>
<rect x="377.43" y="546.90" width="30.23" height="15.25" fill="rgb(236, 228, 226)" stroke="rgba(255,255,255,0.3)" stroke-width="0.5"/>
<text x="405.4" y="557.0" font-size="6.15" fill="#2a2a2a" text-anchor="end">47%</text>
<rect x="407.66" y="546.90" width="30.23" height="15.25" fill="rgb(236, 228, 226)" stroke="rgba(255,255,255,0.3)" stroke-width="0.5"/>
<text x="435.6" y="557.0" font-size="6.15" fill="#2a2a2a" text-anchor="end">48%</text>
<rect x="437.89" y="546.90" width="30.23" height="15.25" fill="rgb(236, 228, 226)" stroke="rgba(255,255,255,0.3)" stroke-width="0.5"/>
<text x="465.8" y="557.0" font-size="6.15" fill="#2a2a2a" text-anchor="end">49%</text>
<rect x="468.12" y="546.90" width="30.23" height="15.25" fill="rgb(236, 228, 226)" stroke="rgba(255,255,255,0.3)" stroke-width="0.5"/>
<text x="496.1" y="557.0" font-size="6.15" fill="#2a2a2a" text-anchor="end">50%</text>
<rect x="498.35" y="546.90" width="30.23" height="15.25" fill="rgb(236, 228, 226)" stroke="rgba(255,255,255,0.3)" stroke-width="0.5"/>
<text x="526.3" y="557.0" font-size="6.15" fill="#2a2a2a" text-anchor="end">49%</text>
<rect x="528.58" y="546.90" width="30.23" height="15.25" fill="rgb(236, 228, 226)" stroke="rgba(255,255,255,0.3)" stroke-width="0.5"/>
<text x="556.5" y="557.0" font-size="6.15" fill="#2a2a2a" text-anchor="end">48%</text>
<rect x="558.81" y="546.90" width="30.23" height="15.25" fill="rgb(242, 229, 225)" stroke="rgba(255,255,255,0.3)" stroke-width="0.5"/>
<text x="586.7" y="557.0" font-size="6.15" fill="#2a2a2a" text-anchor="end">38%</text>
<text x="24.8" y="572.4" font-size="7.05" fill="#333">Jun</text>
<rect x="44.90" y="562.15" width="30.23" height="15.25" fill="rgb(111, 210, 131)" stroke="rgba(255,255,255,0.3)" stroke-width="0.5"/>
<text x="72.8" y="572.2" font-size="6.15" fill="#2a2a2a" text-anchor="end">100%</text>
<rect x="75.13" y="562.15" width="30.23" height="15.25" fill="rgb(229, 226, 225)" stroke="rgba(255,255,255,0.3)" stroke-width="0.5"/>
<text x="103.1" y="572.2" font-size="6.15" fill="#2a2a2a" text-anchor="end">52%</text>
<rect x="105.36" y="562.15" width="30.23" height="15.25" fill="rgb(236, 228, 226)" stroke="rgba(255,255,255,0.3)" stroke-width="0.5"/>
<text x="133.3" y="572.2" font-size="6.15" fill="#2a2a2a" text-anchor="end">48%</text>
<rect x="135.59" y="562.15" width="30.23" height="15.25" fill="rgb(236, 228, 226)" stroke="rgba(255,255,255,0.3)" stroke-width="0.5"/>
<text x="163.5" y="572.2" font-size="6.15" fill="#2a2a2a" text-anchor="end">50%</text>
<rect x="165.82" y="562.15" width="30.23" height="15.25" fill="rgb(236, 228, 226)" stroke="rgba(255,255,255,0.3)" stroke-width="0.5"/>
<text x="193.7" y="572.2" font-size="6.15" fill="#2a2a2a" text-anchor="end">46%</text>
<rect x="196.05" y="562.15" width="30.23" height="15.25" fill="rgb(236, 228, 226)" stroke="rgba(255,255,255,0.3)" stroke-width="0.5"/>
<text x="224.0" y="572.2" font-size="6.15" fill="#2a2a2a" text-anchor="end">46%</text>
<rect x="226.28" y="562.15" width="30.23" height="15.25" fill="rgb(236, 228, 226)" stroke="rgba(255,255,255,0.3)" stroke-width="0.5"/>
<text x="254.2" y="572.2" font-size="6.15" fill="#2a2a2a" text-anchor="end">48%</text>
<rect x="256.51" y="562.15" width="30.23" height="15.25" fill="rgb(236, 228, 226)" stroke="rgba(255,255,255,0.3)" stroke-width="0.5"/>
<text x="284.4" y="572.2" font-size="6.15" fill="#2a2a2a" text-anchor="end">49%</text>
<rect x="286.74" y="562.15" width="30.23" height="15.25" fill="rgb(236, 228, 226)" stroke="rgba(255,255,255,0.3)" stroke-width="0.5"/>
<text x="314.7" y="572.2" font-size="6.15" fill="#2a2a2a" text-anchor="end">48%</text>
<rect x="316.97" y="562.15" width="30.23" height="15.25" fill="rgb(236, 228, 226)" stroke="rgba(255,255,255,0.3)" stroke-width="0.5"/>
<text x="344.9" y="572.2" font-size="6.15" fill="#2a2a2a" text-anchor="end">50%</text>
<rect x="347.20" y="562.15" width="30.23" height="15.25" fill="rgb(236, 228, 226)" stroke="rgba(255,255,255,0.3)" stroke-width="0.5"/>
<text x="375.1" y="572.2" font-size="6.15" fill="#2a2a2a" text-anchor="end">47%</text>
<rect x="377.43" y="562.15" width="30.23" height="15.25" fill="rgb(236, 228, 226)" stroke="rgba(255,255,255,0.3)" stroke-width="0.5"/>
<text x="405.4" y="572.2" font-size="6.15" fill="#2a2a2a" text-anchor="end">50%</text>
<rect x="407.66" y="562.15" width="30.23" height="15.25" fill="rgb(236, 228, 226)" stroke="rgba(255,255,255,0.3)" stroke-width="0.5"/>
<text x="435.6" y="572.2" font-size="6.15" fill="#2a2a2a" text-anchor="end">49%</text>
<rect x="437.89" y="562.15" width="30.23" height="15.25" fill="rgb(236, 228, 226)" stroke="rgba(255,255,255,0.3)" stroke-width="0.5"/>
<text x="465.8" y="572.2" font-size="6.15" fill="#2a2a2a" text-anchor="end">49%</text>
<rect x="468.12" y="562.15" width="30.23" height="15.25" fill="rgb(236, 228, 226)" stroke="rgba(255,255,255,0.3)" stroke-width="0.5"/>
<text x="496.1" y="572.2" font-size="6.15" fill="#2a2a2a" text-anchor="end">50%</text>
<rect x="498.35" y="562.15" width="30.23" height="15.25" fill="rgb(236, 228, 226)" stroke="rgba(255,255,255,0.3)" stroke-width="0.5"/>
<text x="526.3" y="572.2" font-size="6.15" fill="#2a2a2a" text-anchor="end">44%</text>
<rect x="528.58" y="562.15" width="30.23" height="15.25" fill="rgb(242, 229, 225)" stroke="rgba(255,255,255,0.3)" stroke-width="0.5"/>
<text x="556.5" y="572.2" font-size="6.15" fill="#2a2a2a" text-anchor="end">35%</text>
<text x="24.8" y="587.6" font-size="7.05" fill="#333">Jul</text>
<rect x="44.90" y="577.40" width="30.23" height="15.25" fill="rgb(111, 210, 131)" stroke="rgba(255,255,255,0.3)" stroke-width="0.5"/>
<text x="72.8" y="587.5" font-size="6.15" fill="#2a2a2a" text-anchor="end">100%</text>
<rect x="75.13" y="577.40" width="30.23" height="15.25" fill="rgb(236, 228, 226)" stroke="rgba(255,255,255,0.3)" stroke-width="0.5"/>
<text x="103.1" y="587.5" font-size="6.15" fill="#2a2a2a" text-anchor="end">49%</text>
<rect x="105.36" y="577.40" width="30.23" height="15.25" fill="rgb(236, 228, 226)" stroke="rgba(255,255,255,0.3)" stroke-width="0.5"/>
<text x="133.3" y="587.5" font-size="6.15" fill="#2a2a2a" text-anchor="end">47%</text>
<rect x="135.59" y="577.40" width="30.23" height="15.25" fill="rgb(236, 228, 226)" stroke="rgba(255,255,255,0.3)" stroke-width="0.5"/>
<text x="163.5" y="587.5" font-size="6.15" fill="#2a2a2a" text-anchor="end">48%</text>
<rect x="165.82" y="577.40" width="30.23" height="15.25" fill="rgb(229, 226, 225)" stroke="rgba(255,255,255,0.3)" stroke-width="0.5"/>
<text x="193.7" y="587.5" font-size="6.15" fill="#2a2a2a" text-anchor="end">52%</text>
<rect x="196.05" y="577.40" width="30.23" height="15.25" fill="rgb(236, 228, 226)" stroke="rgba(255,255,255,0.3)" stroke-width="0.5"/>
<text x="224.0" y="587.5" font-size="6.15" fill="#2a2a2a" text-anchor="end">49%</text>
<rect x="226.28" y="577.40" width="30.23" height="15.25" fill="rgb(236, 228, 226)" stroke="rgba(255,255,255,0.3)" stroke-width="0.5"/>
<text x="254.2" y="587.5" font-size="6.15" fill="#2a2a2a" text-anchor="end">48%</text>
<rect x="256.51" y="577.40" width="30.23" height="15.25" fill="rgb(229, 226, 225)" stroke="rgba(255,255,255,0.3)" stroke-width="0.5"/>
<text x="284.4" y="587.5" font-size="6.15" fill="#2a2a2a" text-anchor="end">51%</text>
<rect x="286.74" y="577.40" width="30.23" height="15.25" fill="rgb(236, 228, 226)" stroke="rgba(255,255,255,0.3)" stroke-width="0.5"/>
<text x="314.7" y="587.5" font-size="6.15" fill="#2a2a2a" text-anchor="end">48%</text>
<rect x="316.97" y="577.40" width="30.23" height="15.25" fill="rgb(236, 228, 226)" stroke="rgba(255,255,255,0.3)" stroke-width="0.5"/>
<text x="344.9" y="587.5" font-size="6.15" fill="#2a2a2a" text-anchor="end">47%</text>
<rect x="347.20" y="577.40" width="30.23" height="15.25" fill="rgb(236, 228, 226)" stroke="rgba(255,255,255,0.3)" stroke-width="0.5"/>
<text x="375.1" y="587.5" font-size="6.15" fill="#2a2a2a" text-anchor="end">47%</text>
<rect x="377.43" y="577.40" width="30.23" height="15.25" fill="rgb(236, 228, 226)" stroke="rgba(255,255,255,0.3)" stroke-width="0.5"/>
<text x="405.4" y="587.5" font-size="6.15" fill="#2a2a2a" text-anchor="end">47%</text>
<rect x="407.66" y="577.40" width="30.23" height="15.25" fill="rgb(236, 228, 226)" stroke="rgba(255,255,255,0.3)" stroke-width="0.5"/>
<text x="435.6" y="587.5" font-size="6.15" fill="#2a2a2a" text-anchor="end">49%</text>
<rect x="437.89" y="577.40" width="30.23" height="15.25" fill="rgb(236, 228, 226)" stroke="rgba(255,255,255,0.3)" stroke-width="0.5"/>
<text x="465.8" y="587.5" font-size="6.15" fill="#2a2a2a" text-anchor="end">45%</text>
<rect x="468.12" y="577.40" width="30.23" height="15.25" fill="rgb(236, 228, 226)" stroke="rgba(255,255,255,0.3)" stroke-width="0.5"/>
<text x="496.1" y="587.5" font-size="6.15" fill="#2a2a2a" text-anchor="end">47%</text>
<rect x="498.35" y="577.40" width="30.23" height="15.25" fill="rgb(242, 229, 225)" stroke="rgba(255,255,255,0.3)" stroke-width="0.5"/>
<text x="526.3" y="587.5" font-size="6.15" fill="#2a2a2a" text-anchor="end">35%</text>
<text x="24.8" y="602.9" font-size="7.05" fill="#333">Aug</text>
<rect x="44.90" y="592.65" width="30.23" height="15.25" fill="rgb(111, 210, 131)" stroke="rgba(255,255,255,0.3)" stroke-width="0.5"/>
<text x="72.8" y="602.8" font-size="6.15" fill="#2a2a2a" text-anchor="end">100%</text>
<rect x="75.13" y="592.65" width="30.23" height="15.25" fill="rgb(242, 229, 225)" stroke="rgba(255,255,255,0.3)" stroke-width="0.5"/>
<text x="103.1" y="602.8" font-size="6.15" fill="#2a2a2a" text-anchor="end">40%</text>
<rect x="105.36" y="592.65" width="30.23" height="15.25" fill="rgb(242, 229, 225)" stroke="rgba(255,255,255,0.3)" stroke-width="0.5"/>
<text x="133.3" y="602.8" font-size="6.15" fill="#2a2a2a" text-anchor="end">38%</text>
<rect x="135.59" y="592.65" width="30.23" height="15.25" fill="rgb(236, 228, 226)" stroke="rgba(255,255,255,0.3)" stroke-width="0.5"/>
<text x="163.5" y="602.8" font-size="6.15" fill="#2a2a2a" text-anchor="end">45%</text>
<rect x="165.82" y="592.65" width="30.23" height="15.25" fill="rgb(236, 228, 226)" stroke="rgba(255,255,255,0.3)" stroke-width="0.5"/>
<text x="193.7" y="602.8" font-size="6.15" fill="#2a2a2a" text-anchor="end">47%</text>
<rect x="196.05" y="592.65" width="30.23" height="15.25" fill="rgb(229, 226, 225)" stroke="rgba(255,255,255,0.3)" stroke-width="0.5"/>
<text x="224.0" y="602.8" font-size="6.15" fill="#2a2a2a" text-anchor="end">51%</text>
<rect x="226.28" y="592.65" width="30.23" height="15.25" fill="rgb(236, 228, 226)" stroke="rgba(255,255,255,0.3)" stroke-width="0.5"/>
<text x="254.2" y="602.8" font-size="6.15" fill="#2a2a2a" text-anchor="end">44%</text>
<rect x="256.51" y="592.65" width="30.23" height="15.25" fill="rgb(236, 228, 226)" stroke="rgba(255,255,255,0.3)" stroke-width="0.5"/>
<text x="284.4" y="602.8" font-size="6.15" fill="#2a2a2a" text-anchor="end">44%</text>
<rect x="286.74" y="592.65" width="30.23" height="15.25" fill="rgb(242, 229, 225)" stroke="rgba(255,255,255,0.3)" stroke-width="0.5"/>
<text x="314.7" y="602.8" font-size="6.15" fill="#2a2a2a" text-anchor="end">41%</text>
<rect x="316.97" y="592.65" width="30.23" height="15.25" fill="rgb(229, 226, 225)" stroke="rgba(255,255,255,0.3)" stroke-width="0.5"/>
<text x="344.9" y="602.8" font-size="6.15" fill="#2a2a2a" text-anchor="end">52%</text>
<rect x="347.20" y="592.65" width="30.23" height="15.25" fill="rgb(236, 228, 226)" stroke="rgba(255,255,255,0.3)" stroke-width="0.5"/>
<text x="375.1" y="602.8" font-size="6.15" fill="#2a2a2a" text-anchor="end">48%</text>
<rect x="377.43" y="592.65" width="30.23" height="15.25" fill="rgb(229, 226, 225)" stroke="rgba(255,255,255,0.3)" stroke-width="0.5"/>
<text x="405.4" y="602.8" font-size="6.15" fill="#2a2a2a" text-anchor="end">53%</text>
<rect x="407.66" y="592.65" width="30.23" height="15.25" fill="rgb(229, 226, 225)" stroke="rgba(255,255,255,0.3)" stroke-width="0.5"/>
<text x="435.6" y="602.8" font-size="6.15" fill="#2a2a2a" text-anchor="end">52%</text>
<rect x="437.89" y="592.65" width="30.23" height="15.25" fill="rgb(236, 228, 226)" stroke="rgba(255,255,255,0.3)" stroke-width="0.5"/>
<text x="465.8" y="602.8" font-size="6.15" fill="#2a2a2a" text-anchor="end">48%</text>
<rect x="468.12" y="592.65" width="30.23" height="15.25" fill="rgb(248, 230, 224)" stroke="rgba(255,255,255,0.3)" stroke-width="0.5"/>
<text x="496.1" y="602.8" font-size="6.15" fill="#2a2a2a" text-anchor="end">29%</text>
<text x="24.8" y="618.1" font-size="7.05" fill="#333">Sep</text>
<rect x="44.90" y="607.90" width="30.23" height="15.25" fill="rgb(111, 210, 131)" stroke="rgba(255,255,255,0.3)" stroke-width="0.5"/>
<text x="72.8" y="618.0" font-size="6.15" fill="#2a2a2a" text-anchor="end">100%</text>
<rect x="75.13" y="607.90" width="30.23" height="15.25" fill="rgb(236, 228, 226)" stroke="rgba(255,255,255,0.3)" stroke-width="0.5"/>
<text x="103.1" y="618.0" font-size="6.15" fill="#2a2a2a" text-anchor="end">47%</text>
<rect x="105.36" y="607.90" width="30.23" height="15.25" fill="rgb(236, 228, 226)" stroke="rgba(255,255,255,0.3)" stroke-width="0.5"/>
<text x="133.3" y="618.0" font-size="6.15" fill="#2a2a2a" text-anchor="end">48%</text>
<rect x="135.59" y="607.90" width="30.23" height="15.25" fill="rgb(236, 228, 226)" stroke="rgba(255,255,255,0.3)" stroke-width="0.5"/>
<text x="163.5" y="618.0" font-size="6.15" fill="#2a2a2a" text-anchor="end">47%</text>
<rect x="165.82" y="607.90" width="30.23" height="15.25" fill="rgb(236, 228, 226)" stroke="rgba(255,255,255,0.3)" stroke-width="0.5"/>
<text x="193.7" y="618.0" font-size="6.15" fill="#2a2a2a" text-anchor="end">49%</text>
<rect x="196.05" y="607.90" width="30.23" height="15.25" fill="rgb(236, 228, 226)" stroke="rgba(255,255,255,0.3)" stroke-width="0.5"/>
<text x="224.0" y="618.0" font-size="6.15" fill="#2a2a2a" text-anchor="end">46%</text>
<rect x="226.28" y="607.90" width="30.23" height="15.25" fill="rgb(236, 228, 226)" stroke="rgba(255,255,255,0.3)" stroke-width="0.5"/>
<text x="254.2" y="618.0" font-size="6.15" fill="#2a2a2a" text-anchor="end">44%</text>
<rect x="256.51" y="607.90" width="30.23" height="15.25" fill="rgb(236, 228, 226)" stroke="rgba(255,255,255,0.3)" stroke-width="0.5"/>
<text x="284.4" y="618.0" font-size="6.15" fill="#2a2a2a" text-anchor="end">45%</text>
<rect x="286.74" y="607.90" width="30.23" height="15.25" fill="rgb(236, 228, 226)" stroke="rgba(255,255,255,0.3)" stroke-width="0.5"/>
<text x="314.7" y="618.0" font-size="6.15" fill="#2a2a2a" text-anchor="end">49%</text>
<rect x="316.97" y="607.90" width="30.23" height="15.25" fill="rgb(236, 228, 226)" stroke="rgba(255,255,255,0.3)" stroke-width="0.5"/>
<text x="344.9" y="618.0" font-size="6.15" fill="#2a2a2a" text-anchor="end">43%</text>
<rect x="347.20" y="607.90" width="30.23" height="15.25" fill="rgb(236, 228, 226)" stroke="rgba(255,255,255,0.3)" stroke-width="0.5"/>
<text x="375.1" y="618.0" font-size="6.15" fill="#2a2a2a" text-anchor="end">44%</text>
<rect x="377.43" y="607.90" width="30.23" height="15.25" fill="rgb(242, 229, 225)" stroke="rgba(255,255,255,0.3)" stroke-width="0.5"/>
<text x="405.4" y="618.0" font-size="6.15" fill="#2a2a2a" text-anchor="end">40%</text>
<rect x="407.66" y="607.90" width="30.23" height="15.25" fill="rgb(229, 226, 225)" stroke="rgba(255,255,255,0.3)" stroke-width="0.5"/>
<text x="435.6" y="618.0" font-size="6.15" fill="#2a2a2a" text-anchor="end">52%</text>
<rect x="437.89" y="607.90" width="30.23" height="15.25" fill="rgb(236, 228, 226)" stroke="rgba(255,255,255,0.3)" stroke-width="0.5"/>
<text x="465.8" y="618.0" font-size="6.15" fill="#2a2a2a" text-anchor="end">44%</text>
<text x="24.8" y="633.4" font-size="7.05" fill="#333">Oct</text>
<rect x="44.90" y="623.15" width="30.23" height="15.25" fill="rgb(111, 210, 131)" stroke="rgba(255,255,255,0.3)" stroke-width="0.5"/>
<text x="72.8" y="633.2" font-size="6.15" fill="#2a2a2a" text-anchor="end">100%</text>
<rect x="75.13" y="623.15" width="30.23" height="15.25" fill="rgb(236, 228, 226)" stroke="rgba(255,255,255,0.3)" stroke-width="0.5"/>
<text x="103.1" y="633.2" font-size="6.15" fill="#2a2a2a" text-anchor="end">49%</text>
<rect x="105.36" y="623.15" width="30.23" height="15.25" fill="rgb(236, 228, 226)" stroke="rgba(255,255,255,0.3)" stroke-width="0.5"/>
<text x="133.3" y="633.2" font-size="6.15" fill="#2a2a2a" text-anchor="end">49%</text>
<rect x="135.59" y="623.15" width="30.23" height="15.25" fill="rgb(242, 229, 225)" stroke="rgba(255,255,255,0.3)" stroke-width="0.5"/>
<text x="163.5" y="633.2" font-size="6.15" fill="#2a2a2a" text-anchor="end">39%</text>
<rect x="165.82" y="623.15" width="30.23" height="15.25" fill="rgb(236, 228, 226)" stroke="rgba(255,255,255,0.3)" stroke-width="0.5"/>
<text x="193.7" y="633.2" font-size="6.15" fill="#2a2a2a" text-anchor="end">42%</text>
<rect x="196.05" y="623.15" width="30.23" height="15.25" fill="rgb(236, 228, 226)" stroke="rgba(255,255,255,0.3)" stroke-width="0.5"/>
<text x="224.0" y="633.2" font-size="6.15" fill="#2a2a2a" text-anchor="end">44%</text>
<rect x="226.28" y="623.15" width="30.23" height="15.25" fill="rgb(175, 215, 180)" stroke="rgba(255,255,255,0.3)" stroke-width="0.5"/>
<text x="254.2" y="633.2" font-size="6.15" fill="#2a2a2a" text-anchor="end">68%</text>
<rect x="256.51" y="623.15" width="30.23" height="15.25" fill="rgb(236, 228, 226)" stroke="rgba(255,255,255,0.3)" stroke-width="0.5"/>
<text x="284.4" y="633.2" font-size="6.15" fill="#2a2a2a" text-anchor="end">46%</text>
<rect x="286.74" y="623.15" width="30.23" height="15.25" fill="rgb(229, 226, 225)" stroke="rgba(255,255,255,0.3)" stroke-width="0.5"/>
<text x="314.7" y="633.2" font-size="6.15" fill="#2a2a2a" text-anchor="end">51%</text>
<rect x="316.97" y="623.15" width="30.23" height="15.25" fill="rgb(236, 228, 226)" stroke="rgba(255,255,255,0.3)" stroke-width="0.5"/>
<text x="344.9" y="633.2" font-size="6.15" fill="#2a2a2a" text-anchor="end">46%</text>
<rect x="347.20" y="623.15" width="30.23" height="15.25" fill="rgb(199, 217, 201)" stroke="rgba(255,255,255,0.3)" stroke-width="0.5"/>
<text x="375.1" y="633.2" font-size="6.15" fill="#2a2a2a" text-anchor="end">60%</text>
<rect x="377.43" y="623.15" width="30.23" height="15.25" fill="rgb(236, 228, 226)" stroke="rgba(255,255,255,0.3)" stroke-width="0.5"/>
<text x="405.4" y="633.2" font-size="6.15" fill="#2a2a2a" text-anchor="end">47%</text>
<rect x="407.66" y="623.15" width="30.23" height="15.25" fill="rgb(242, 229, 225)" stroke="rgba(255,255,255,0.3)" stroke-width="0.5"/>
<text x="435.6" y="633.2" font-size="6.15" fill="#2a2a2a" text-anchor="end">35%</text>
<text x="24.8" y="648.6" font-size="7.05" fill="#333">Nov</text>
<rect x="44.90" y="638.40" width="30.23" height="15.25" fill="rgb(111, 210, 131)" stroke="rgba(255,255,255,0.3)" stroke-width="0.5"/>
<text x="72.8" y="648.5" font-size="6.15" fill="#2a2a2a" text-anchor="end">100%</text>
<rect x="75.13" y="638.40" width="30.23" height="15.25" fill="rgb(199, 217, 201)" stroke="rgba(255,255,255,0.3)" stroke-width="0.5"/>
<text x="103.1" y="648.5" font-size="6.15" fill="#2a2a2a" text-anchor="end">61%</text>
<rect x="105.36" y="638.40" width="30.23" height="15.25" fill="rgb(236, 228, 226)" stroke="rgba(255,255,255,0.3)" stroke-width="0.5"/>
<text x="133.3" y="648.5" font-size="6.15" fill="#2a2a2a" text-anchor="end">43%</text>
<rect x="135.59" y="638.40" width="30.23" height="15.25" fill="rgb(236, 228, 226)" stroke="rgba(255,255,255,0.3)" stroke-width="0.5"/>
<text x="163.5" y="648.5" font-size="6.15" fill="#2a2a2a" text-anchor="end">43%</text>
<rect x="165.82" y="638.40" width="30.23" height="15.25" fill="rgb(199, 217, 201)" stroke="rgba(255,255,255,0.3)" stroke-width="0.5"/>
<text x="193.7" y="648.5" font-size="6.15" fill="#2a2a2a" text-anchor="end">64%</text>
<rect x="196.05" y="638.40" width="30.23" height="15.25" fill="rgb(242, 229, 225)" stroke="rgba(255,255,255,0.3)" stroke-width="0.5"/>
<text x="224.0" y="648.5" font-size="6.15" fill="#2a2a2a" text-anchor="end">36%</text>
<rect x="226.28" y="638.40" width="30.23" height="15.25" fill="rgb(229, 226, 225)" stroke="rgba(255,255,255,0.3)" stroke-width="0.5"/>
<text x="254.2" y="648.5" font-size="6.15" fill="#2a2a2a" text-anchor="end">57%</text>
<rect x="256.51" y="638.40" width="30.23" height="15.25" fill="rgb(242, 229, 225)" stroke="rgba(255,255,255,0.3)" stroke-width="0.5"/>
<text x="284.4" y="648.5" font-size="6.15" fill="#2a2a2a" text-anchor="end">39%</text>
<rect x="286.74" y="638.40" width="30.23" height="15.25" fill="rgb(175, 215, 180)" stroke="rgba(255,255,255,0.3)" stroke-width="0.5"/>
<text x="314.7" y="648.5" font-size="6.15" fill="#2a2a2a" text-anchor="end">71%</text>
<rect x="316.97" y="638.40" width="30.23" height="15.25" fill="rgb(175, 215, 180)" stroke="rgba(255,255,255,0.3)" stroke-width="0.5"/>
<text x="344.9" y="648.5" font-size="6.15" fill="#2a2a2a" text-anchor="end">71%</text>
<rect x="347.20" y="638.40" width="30.23" height="15.25" fill="rgb(242, 229, 225)" stroke="rgba(255,255,255,0.3)" stroke-width="0.5"/>
<text x="375.1" y="648.5" font-size="6.15" fill="#2a2a2a" text-anchor="end">39%</text>
<rect x="377.43" y="638.40" width="30.23" height="15.25" fill="rgb(242, 229, 225)" stroke="rgba(255,255,255,0.3)" stroke-width="0.5"/>
<text x="405.4" y="648.5" font-size="6.15" fill="#2a2a2a" text-anchor="end">36%</text>
<text x="24.8" y="663.9" font-size="7.05" fill="#333">Dec</text>
<rect x="44.90" y="653.65" width="30.23" height="15.25" fill="rgb(111, 210, 131)" stroke="rgba(255,255,255,0.3)" stroke-width="0.5"/>
<text x="72.8" y="663.8" font-size="6.15" fill="#2a2a2a" text-anchor="end">100%</text>
<rect x="75.13" y="653.65" width="30.23" height="15.25" fill="rgb(248, 230, 224)" stroke="rgba(255,255,255,0.3)" stroke-width="0.5"/>
<text x="103.1" y="663.8" font-size="6.15" fill="#2a2a2a" text-anchor="end">31%</text>
<rect x="105.36" y="653.65" width="30.23" height="15.25" fill="rgb(242, 229, 225)" stroke="rgba(255,255,255,0.3)" stroke-width="0.5"/>
<text x="133.3" y="663.8" font-size="6.15" fill="#2a2a2a" text-anchor="end">38%</text>
<rect x="135.59" y="653.65" width="30.23" height="15.25" fill="rgb(199, 217, 201)" stroke="rgba(255,255,255,0.3)" stroke-width="0.5"/>
<text x="163.5" y="663.8" font-size="6.15" fill="#2a2a2a" text-anchor="end">63%</text>
<rect x="165.82" y="653.65" width="30.23" height="15.25" fill="rgb(236, 228, 226)" stroke="rgba(255,255,255,0.3)" stroke-width="0.5"/>
<text x="193.7" y="663.8" font-size="6.15" fill="#2a2a2a" text-anchor="end">44%</text>
<rect x="196.05" y="653.65" width="30.23" height="15.25" fill="rgb(236, 228, 226)" stroke="rgba(255,255,255,0.3)" stroke-width="0.5"/>
<text x="224.0" y="663.8" font-size="6.15" fill="#2a2a2a" text-anchor="end">50%</text>
<rect x="226.28" y="653.65" width="30.23" height="15.25" fill="rgb(199, 217, 201)" stroke="rgba(255,255,255,0.3)" stroke-width="0.5"/>
<text x="254.2" y="663.8" font-size="6.15" fill="#2a2a2a" text-anchor="end">63%</text>
<rect x="256.51" y="653.65" width="30.23" height="15.25" fill="rgb(236, 228, 226)" stroke="rgba(255,255,255,0.3)" stroke-width="0.5"/>
<text x="284.4" y="663.8" font-size="6.15" fill="#2a2a2a" text-anchor="end">44%</text>
<rect x="286.74" y="653.65" width="30.23" height="15.25" fill="rgb(242, 229, 225)" stroke="rgba(255,255,255,0.3)" stroke-width="0.5"/>
<text x="314.7" y="663.8" font-size="6.15" fill="#2a2a2a" text-anchor="end">38%</text>
<rect x="316.97" y="653.65" width="30.23" height="15.25" fill="rgb(236, 228, 226)" stroke="rgba(255,255,255,0.3)" stroke-width="0.5"/>
<text x="344.9" y="663.8" font-size="6.15" fill="#2a2a2a" text-anchor="end">44%</text>
<rect x="347.20" y="653.65" width="30.23" height="15.25" fill="rgb(236, 228, 226)" stroke="rgba(255,255,255,0.3)" stroke-width="0.5"/>
<text x="375.1" y="663.8" font-size="6.15" fill="#2a2a2a" text-anchor="end">50%</text>
<rect x="479.00" y="464.40" width="12.09" height="10.10" fill="rgb(253, 231, 223)"/>
<rect x="490.79" y="464.40" width="12.09" height="10.10" fill="rgb(248, 230, 224)"/>
<rect x="502.58" y="464.40" width="12.09" height="10.10" fill="rgb(242, 229, 225)"/>
<rect x="514.37" y="464.40" width="12.09" height="10.10" fill="rgb(236, 228, 226)"/>
<rect x="526.16" y="464.40" width="12.09" height="10.10" fill="rgb(229, 226, 225)"/>
<rect x="537.95" y="464.40" width="12.09" height="10.10" fill="rgb(199, 217, 201)"/>
<rect x="549.74" y="464.40" width="12.09" height="10.10" fill="rgb(175, 215, 180)"/>
<rect x="561.53" y="464.40" width="12.09" height="10.10" fill="rgb(153, 213, 162)"/>
<rect x="573.32" y="464.40" width="12.09" height="10.10" fill="rgb(132, 212, 147)"/>
<rect x="585.11" y="464.40" width="12.09" height="10.10" fill="rgb(111, 210, 131)"/>
<rect x="479.0" y="464.4" width="117.9" height="10.1" fill="none" stroke="#a89c94" stroke-width="0.7"/>
<text x="476.2" y="469.9" font-size="6.6" fill="#555" text-anchor="end">17%</text>
<text x="599.7" y="469.9" font-size="6.6" fill="#555">100%</text>
<text x="480.9" y="484.0" font-size="5.9" fill="#444" font-style="italic">Decreasing</text>
<text x="592.2" y="484.0" font-size="5.9" fill="#444" text-anchor="end" font-style="italic">Increasing</text>
</svg></section>
<section class="panel rc" style="left:643px;top:460px;width:292px;height:212px">
<svg width="292" height="212" viewBox="643 460 292 212">
<text x="646.5" y="473.4" font-size="10.55" fill="#444">Revenue By Country <tspan font-size="7.28" fill="#777">| Click and country to filter entire view</tspan></text>
<clipPath id="ccy"><rect x="642" y="476" width="293" height="7.0"/></clipPath>
<text x="646.3" y="484.4" font-size="7.28" clip-path="url(#ccy)"><tspan fill="#cfcfcf">One-Time Purchase</tspan><tspan fill="#555"> vs </tspan><tspan fill="#d65f83">Repeat Purchase</tspan></text>
<text x="693.3" y="497.1" font-size="7.05" fill="#555" text-anchor="end">United States</text>
<rect x="697.00" y="489.40" width="202.00" height="11.00" fill="#d4d4d4"/>
<rect x="899.00" y="489.40" width="23.70" height="11.00" fill="#d65f83"/>
<text x="798.0" y="497.3" font-size="6.3" fill="#333" text-anchor="middle">$7.53M</text>
<text x="910.9" y="497.3" font-size="6.0" fill="#fff" text-anchor="middle" font-weight="bold">$0.90M</text>
<text x="693.3" y="511.7" font-size="7.05" fill="#555" text-anchor="end">United</text>
<text x="693.3" y="519.9" font-size="7.05" fill="#555" text-anchor="end">Kingdom</text>
<rect x="697.00" y="508.10" width="117.20" height="11.00" fill="#d4d4d4"/>
<rect x="814.20" y="508.10" width="14.60" height="11.00" fill="#d65f83"/>
<text x="755.6" y="516.0" font-size="6.3" fill="#333" text-anchor="middle">$4.37M</text>
<text x="693.3" y="534.5" font-size="7.05" fill="#555" text-anchor="end">Canada</text>
<rect x="697.00" y="526.80" width="75.10" height="11.00" fill="#d4d4d4"/>
<rect x="772.10" y="526.80" width="8.00" height="11.00" fill="#d65f83"/>
<text x="734.5" y="534.7" font-size="6.3" fill="#333" text-anchor="middle">$2.82M</text>
<text x="693.3" y="553.2" font-size="7.05" fill="#555" text-anchor="end">Australia</text>
<rect x="697.00" y="545.50" width="74.10" height="11.00" fill="#d4d4d4"/>
<rect x="771.10" y="545.50" width="9.00" height="11.00" fill="#d65f83"/>
<text x="734.0" y="553.4" font-size="6.3" fill="#333" text-anchor="middle">$2.77M</text>
<text x="693.3" y="571.9" font-size="7.05" fill="#555" text-anchor="end">Germany</text>
<rect x="697.00" y="564.20" width="61.90" height="11.00" fill="#d4d4d4"/>
<rect x="758.90" y="564.20" width="8.70" height="11.00" fill="#d65f83"/>
<text x="728.0" y="572.1" font-size="6.3" fill="#333" text-anchor="middle">$2.31M</text>
<text x="693.3" y="590.6" font-size="7.05" fill="#555" text-anchor="end">France</text>
<rect x="697.00" y="582.90" width="56.00" height="11.00" fill="#d4d4d4"/>
<rect x="753.00" y="582.90" width="7.70" height="11.00" fill="#d65f83"/>
<text x="725.0" y="590.8" font-size="6.3" fill="#333" text-anchor="middle">$2.08M</text>
<text x="693.3" y="609.3" font-size="7.05" fill="#555" text-anchor="end">Netherlands</text>
<rect x="697.00" y="601.60" width="42.80" height="11.00" fill="#d4d4d4"/>
<rect x="739.80" y="601.60" width="4.90" height="11.00" fill="#d65f83"/>
<text x="718.4" y="609.5" font-size="6.3" fill="#333" text-anchor="middle">$1.58M</text>
<text x="693.3" y="628.0" font-size="7.05" fill="#555" text-anchor="end">Spain</text>
<rect x="697.00" y="620.30" width="40.70" height="11.00" fill="#d4d4d4"/>
<rect x="737.70" y="620.30" width="4.50" height="11.00" fill="#d65f83"/>
<text x="717.4" y="628.2" font-size="6.3" fill="#333" text-anchor="middle">$1.52M</text>
<text x="693.3" y="646.7" font-size="7.05" fill="#555" text-anchor="end">Philippines</text>
<rect x="697.00" y="639.00" width="40.00" height="11.00" fill="#d4d4d4"/>
<rect x="737.00" y="639.00" width="4.50" height="11.00" fill="#d65f83"/>
<text x="717.0" y="646.9" font-size="6.3" fill="#333" text-anchor="middle">$1.49M</text>
<text x="693.3" y="665.4" font-size="7.05" fill="#555" text-anchor="end">Brazil</text>
<rect x="697.00" y="657.70" width="34.10" height="11.00" fill="#d4d4d4"/>
<rect x="731.10" y="657.70" width="4.50" height="11.00" fill="#d65f83"/>
<text x="714.0" y="665.6" font-size="6.3" fill="#333" text-anchor="middle">$1.27M</text>
</svg></section>
<div class="edge"></div><footer class="foot"><svg width="962" height="5" viewBox="0 685 962 5">
<rect x="27.20" y="688.20" width="1.00" height="2.00" fill="#a2a2a2"/>
<rect x="24.40" y="689.30" width="1.00" height="1.00" fill="#a2a2a2"/>
<rect x="30.00" y="689.30" width="1.00" height="1.00" fill="#a2a2a2"/>
<rect x="704.00" y="688.60" width="0.80" height="2.00" fill="#a2a2a2"/>
<rect x="738.40" y="688.60" width="0.80" height="2.00" fill="#a2a2a2"/>
<rect x="757.60" y="688.60" width="0.80" height="2.00" fill="#a2a2a2"/>
<rect x="761.00" y="689.00" width="0.80" height="1.00" fill="#a2a2a2"/>
<rect x="822.00" y="688.60" width="0.80" height="2.00" fill="#a2a2a2"/>
<rect x="841.00" y="688.40" width="10.00" height="0.80" fill="#a2a2a2"/>
<rect x="841.00" y="688.40" width="0.80" height="2.00" fill="#a2a2a2"/>
<rect x="850.20" y="688.40" width="0.80" height="2.00" fill="#a2a2a2"/>
<rect x="875.50" y="688.40" width="3.00" height="0.80" fill="#a2a2a2"/>
<rect x="875.50" y="688.40" width="0.80" height="2.00" fill="#a2a2a2"/>
<rect x="882.60" y="688.40" width="3.00" height="0.80" fill="#a2a2a2"/>
<rect x="884.80" y="688.40" width="0.80" height="2.00" fill="#a2a2a2"/>
<rect x="907.50" y="688.40" width="1.60" height="2.00" fill="#a2a2a2"/>
</svg></footer>
</body></html>
